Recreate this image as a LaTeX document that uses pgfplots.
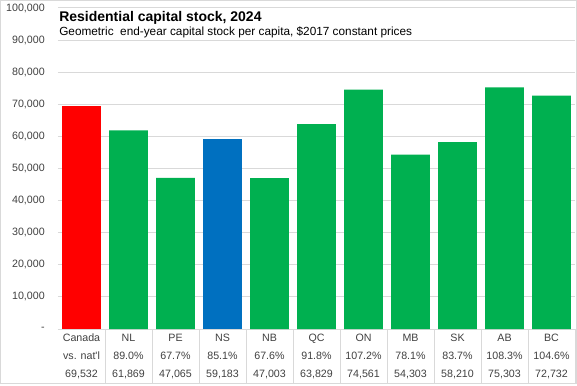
\documentclass[border=0pt]{standalone}
\usepackage{pgfplots}
\pgfplotsset{compat=1.18}
\usepackage{fontspec}
\setmainfont{Liberation Sans}
\definecolor{cred}{HTML}{FF0000}
\definecolor{cgreen}{HTML}{00B050}
\definecolor{cblue}{HTML}{0070C0}
\definecolor{cgrid}{HTML}{D9D9D9}
\definecolor{ctext}{HTML}{404040}
\begin{document}
\begin{tikzpicture}
\useasboundingbox (-43.5pt,-42pt) rectangle (389.25pt,246.75pt);
\draw[cgrid, line width=0.75pt] (-43.125pt,-40.5pt) rectangle (388.5pt,246.25pt);
\begin{axis}[
  at={(0pt,0pt)}, anchor=south west,
  width=387.75pt, height=240.75pt, scale only axis,
  xmin=-0.5, xmax=10.5, ymin=0, ymax=100000,
  enlargelimits=false,
  ybar, bar width=29pt,
  ytick={0,10000,...,100000},
  yticklabels={{-},{10,000},{20,000},{30,000},{40,000},{50,000},{60,000},{70,000},{80,000},{90,000},{100,000}},
  yticklabel style={anchor=east, inner sep=0pt, xshift=-9.75pt, font=\fontsize{8}{9}\selectfont, text=ctext},
  ymajorgrids, grid style={cgrid, line width=0.75pt},
  xtick={0,...,10},
  xticklabels={
    {Canada\\vs. nat\textquotesingle l\\69,532},
    {NL\\89.0\%\\61,869},
    {PE\\67.7\%\\47,065},
    {NS\\85.1\%\\59,183},
    {NB\\67.6\%\\47,003},
    {QC\\91.8\%\\63,829},
    {ON\\107.2\%\\74,561},
    {MB\\78.1\%\\54,303},
    {SK\\83.7\%\\58,210},
    {AB\\108.3\%\\75,303},
    {BC\\104.6\%\\72,732}},
  xticklabel style={align=center, anchor=north, inner sep=0pt, yshift=-3.3pt, font=\fontsize{8}{13.5}\selectfont, text=ctext},
  major tick length=0pt,
  xtick pos=bottom, ytick pos=left,
  separate axis lines,
  x axis line style={cgrid, line width=0.75pt},
  y axis line style={draw=none},
  extra x ticks={0.5,1.5,2.5,3.5,4.5,5.5,6.5,7.5,8.5,9.5,10.5},
  extra x tick labels={},
  extra x tick style={major tick length=40.5pt, tick align=outside, grid=none, tick style={cgrid, line width=0.75pt}},
  clip=false,
]
\addplot[fill=cred, draw=none, bar shift=0pt] coordinates {(0,69532)};
\addplot[fill=cgreen, draw=none, bar shift=0pt] coordinates {(1,61869) (2,47065) (4,47003) (5,63829) (6,74561) (7,54303) (8,58210) (9,75303) (10,72732)};
\addplot[fill=cblue, draw=none, bar shift=0pt] coordinates {(3,59183)};
\end{axis}
\node[anchor=base west, inner sep=0pt, font=\bfseries\fontsize{10.5}{12}\selectfont] at (0.75pt,230.5pt) {Residential capital stock, 2024};
\node[anchor=base west, inner sep=0pt, font=\fontsize{8.85}{10}\selectfont] at (0.75pt,219.75pt) {Geometric\ \ end-year capital stock per capita, \$2017 constant prices};
\end{tikzpicture}
\end{document}
